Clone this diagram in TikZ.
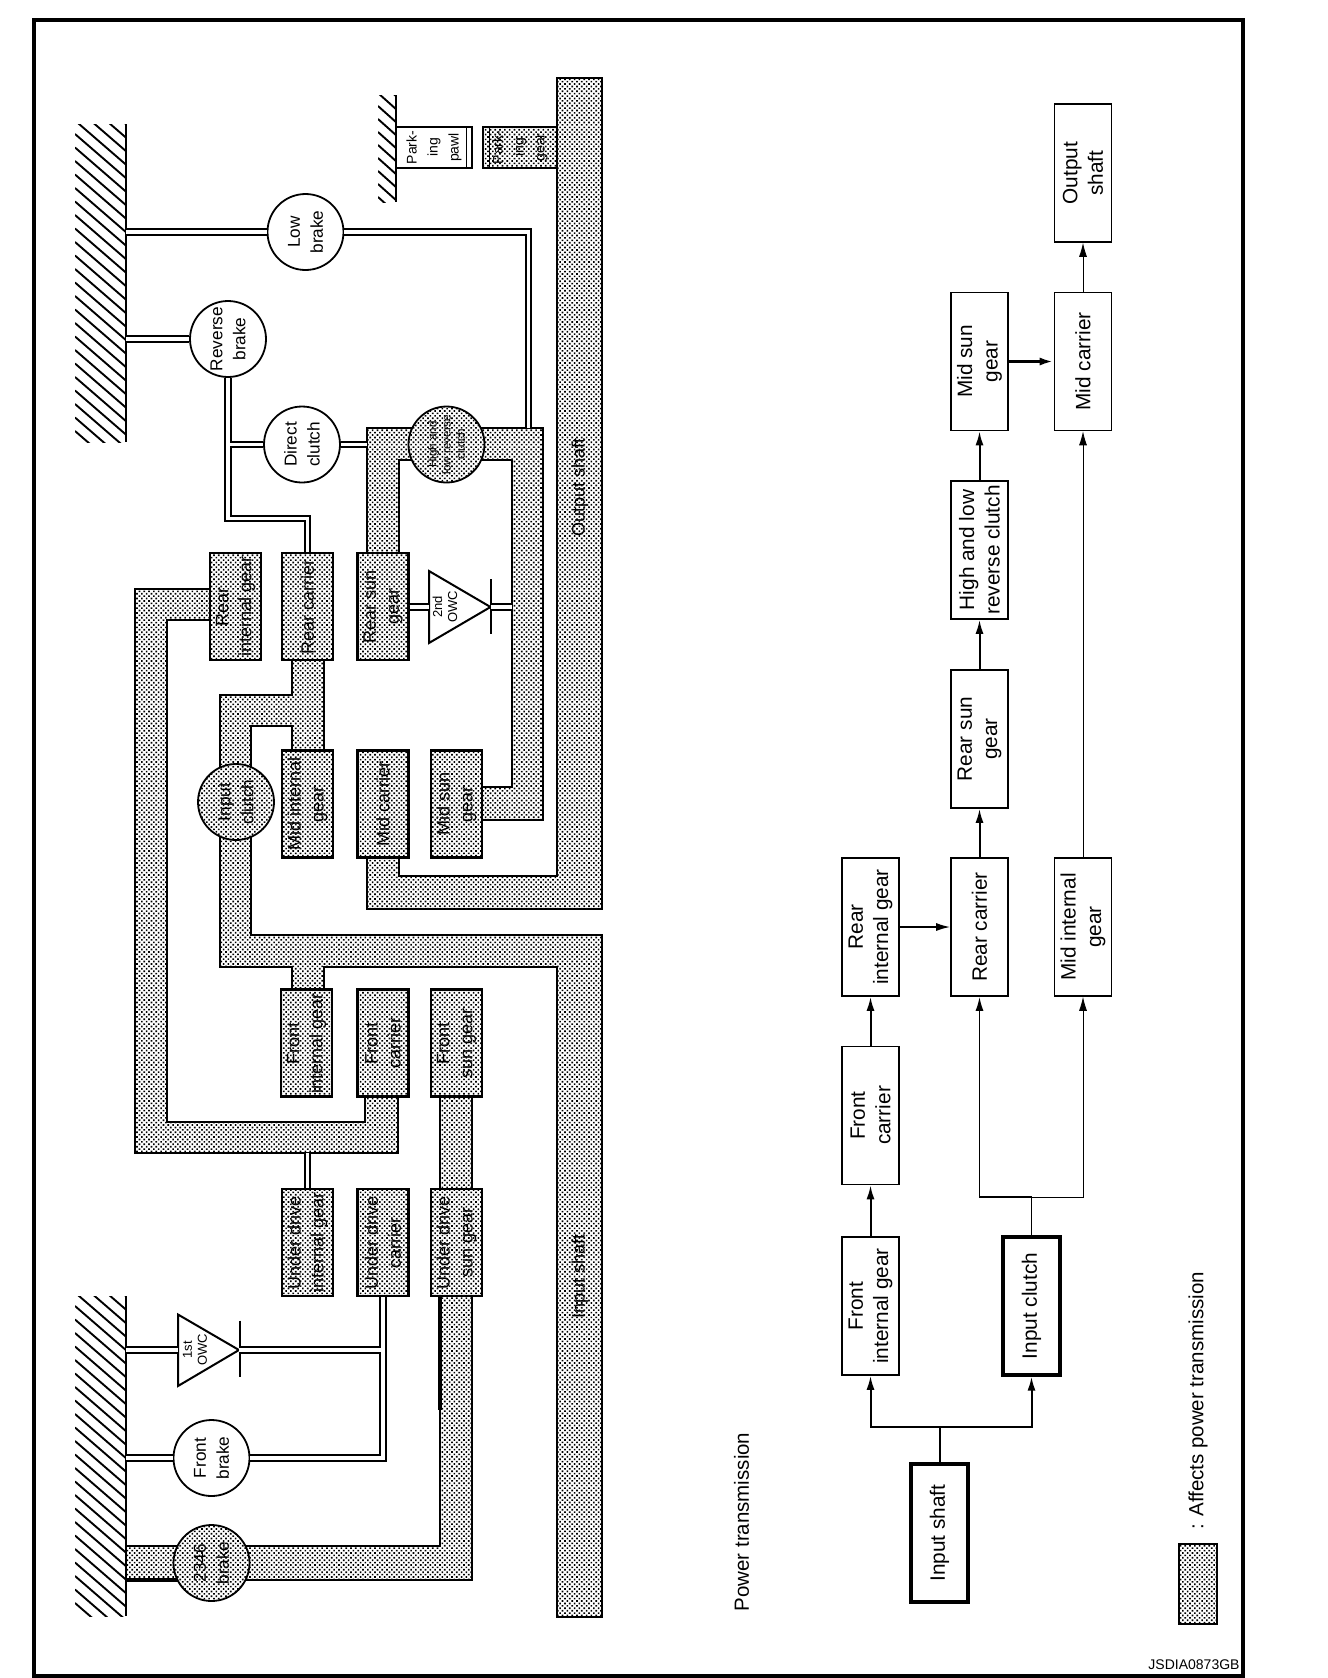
\documentclass[tikz,border=0pt]{standalone}
\usepackage{fontspec}
\setmainfont{Liberation Sans}
\usetikzlibrary{arrows.meta,patterns.meta}
\tikzset{
  powerfill/.style={preaction={fill=white},pattern={Dots[distance=1.7pt,radius=0.58pt,angle=45]}},
  pipe/.style={draw,line width=1.1pt,powerfill},
  gearbox/.style={draw,line width=1.1pt,rotate=90,align=center,inner sep=0pt,minimum width=53.5pt,minimum height=25.5pt,font=\fontsize{9}{11.5}\selectfont},
  plainbrake/.style={draw,circle,line width=0.9pt,fill=white,rotate=90,align=center,inner sep=0pt,minimum size=38pt,font=\fontsize{8.6}{11.5}\selectfont},
  blockbox/.style={draw,line width=0.8pt,fill=white,rotate=90,align=center,inner sep=0pt,minimum width=69pt,minimum height=28.5pt,font=\fontsize{10.4}{12.7}\selectfont},
  heavybox/.style={blockbox,line width=1.6pt},
  rod/.style={draw,line width=0.85pt,double=white,double distance=1.9pt},
  hatchline/.style={line width=0.95pt},
  flowarrow/.style={line width=1pt,-{Latex[length=7pt,width=4pt]}},
  thinarrow/.style={line width=0.4pt,-{Latex[length=7pt,width=4pt]}},
  title/.style={rotate=90,inner sep=0pt,font=\fontsize{10.25}{12}\selectfont},
}
\begin{document}
\begin{tikzpicture}[x=0.5pt,y=-0.5pt]
\useasboundingbox (0,0) rectangle (1328,1678);
\draw[line width=2.2pt] (34,20) rectangle (1243,1676); % frame

% ground hatching
\begin{scope}
\clip (75,124) rectangle (126,442);
\foreach \y in {80,93.5,...,442} \draw[hatchline] (75,\y) -- ++(52,45);
\end{scope}
\begin{scope}
\clip (75,1296) rectangle (126,1616);
\foreach \y in {1252,1265.5,...,1616} \draw[hatchline] (75,\y) -- ++(52,45);
\end{scope}
\begin{scope}
\clip (378,95) rectangle (396,202);
\foreach \y in {80,93,...,202} \draw[hatchline] (378,\y) -- ++(19,17);
\end{scope}
\draw[line width=1.2pt] (126,124) -- (126,442); % upper wall
\draw[line width=1.2pt] (126,1296) -- (126,1616); % lower wall
\draw[line width=1.2pt] (396,95) -- (396,202); % parking wall
\coordinate (wallup) at (126,0);

% shaded shafts
\draw[pipe] (557,78) -- (602,78) -- (602,909) -- (367,909) -- (367,855) -- (399,855) -- (399,876) -- (557,876) -- cycle; % output shaft
\draw[pipe] (251,935) -- (251,726) -- (292,726) -- (292,752) -- (324,752) -- (324,658) -- (292,658) -- (292,695) -- (220,695) -- (220,967) -- (292,967) -- (292,992) -- (324,992) -- (324,967) -- (557,967) -- (557,1617) -- (602,1617) -- (602,935) -- cycle; % input shaft
\draw[pipe] (212,589) -- (135,589) -- (135,1153) -- (398,1153) -- (398,1095) -- (365,1095) -- (365,1122) -- (167,1122) -- (167,620) -- (212,620) -- cycle; % rear internal to front carrier
\draw[pipe] (440,1095) -- (472,1095) -- (472,1580) -- (126,1580) -- (126,1546) -- (440,1546) -- cycle; % front sun to brake
\draw[pipe] (367,555) -- (367,428) -- (543,428) -- (543,820) -- (480,820) -- (480,787) -- (512,787) -- (512,460) -- (399,460) -- (399,555) -- cycle; % rear sun to mid sun
\draw[line width=1.8pt] (126,1580) -- (178,1580); % heavy brake edge
\draw[line width=1.6pt] (440,1296) -- (440,1410); % heavy shaft edge

% gear boxes
\node[gearbox,powerfill] (rearint) at (235.5,606.5) {Rear\\internal gear};
\node[gearbox,powerfill] (rearcar) at (307.5,606.5) {Rear carrier};
\node[gearbox,powerfill] (rearsun) at (383,606.5) {Rear sun\\gear};
\node[gearbox,powerfill] (midint) at (307.5,804) {Mid internal\\gear};
\node[gearbox,powerfill] (midcar) at (383,804) {Mid carrier};
\node[gearbox,powerfill] (midsun) at (456.5,804) {Mid sun\\gear};
\node[gearbox,powerfill] (frontint) at (306.5,1043) {Front\\internal gear};
\node[gearbox,powerfill] (frontcar) at (383,1043) {Front\\carrier};
\node[gearbox,powerfill] (frontsun) at (456.5,1043) {Front\\sun gear};
\node[gearbox,powerfill] (udint) at (307.5,1242.5) {Under drive\\internal gear};
\node[gearbox,powerfill] (udcar) at (383,1242.5) {Under drive\\carrier};
\node[gearbox,powerfill] (udsun) at (456.5,1242.5) {Under drive\\sun gear};
\node[gearbox,powerfill,minimum width=20.5pt,minimum height=37pt,font=\fontsize{7}{10.5}\selectfont] (parkgear) at (520,147.5) {Park-\\ing\\gear};
\node[gearbox,fill=white,minimum width=20.5pt,minimum height=38pt,font=\fontsize{7}{10.5}\selectfont] (parkpawl) at (434,147.5) {Park-\\ing\\pawl};
\draw[line width=0.5pt] (466,127) -- (466,168); % pawl edge
\draw[line width=0.5pt] (489,127) -- (489,168); % gear edge

% brakes and clutches
\node[plainbrake] (lowbrake) at (305.5,232) {Low\\brake};
\node[plainbrake] (revbrake) at (228,339) {Reverse\\brake};
\node[plainbrake] (dirclutch) at (302,444.5) {Direct\\clutch};
\node[plainbrake,powerfill,font=\fontsize{5.8}{7}\selectfont] (hiclutch) at (446.5,444.5) {High and\\low reverse\\clutch};
\node[plainbrake,powerfill] (inclutch) at (236,802) {Input\\clutch};
\node[plainbrake] (frbrake) at (211.5,1458) {Front\\brake};
\node[plainbrake,powerfill] (ugbrake) at (211.5,1563) {2346\\brake};

% one way clutches
\coordinate (owconetip) at (239,1350);
\coordinate (owctwotip) at (490.5,607);
\draw[line width=1pt,fill=white] (178,1314.5) -- (owconetip) -- (178,1386) -- cycle;
\draw[line width=1pt,fill=white] (429,571) -- (owctwotip) -- (429,643) -- cycle;
\draw[line width=1pt] (240,1320.5) -- (240,1377);
\draw[line width=1pt] (491,579) -- (491,634);
\node[rotate=90,align=center,inner sep=0pt,font=\fontsize{6.5}{7.5}\selectfont] (owcone) at (195,1350) {1st\\OWC};
\node[rotate=90,align=center,inner sep=0pt,font=\fontsize{6.5}{7.5}\selectfont] (owctwo) at (445,607) {2nd\\OWC};

% rods
\coordinate (lowtop) at (528.5,428);
\coordinate (revbend) at (228,518.5);
\coordinate (revtee) at (228,444.5);
\coordinate (asmleft) at (367,444.5);
\coordinate (ringbot) at (307.5,1153);
\coordinate (udtee) at (383,1350);
\coordinate (legone) at (178,1350);
\coordinate (legtwo) at (429,607);
\coordinate (asmright) at (512,607);
\draw[rod] (wallup |- lowbrake) -- (lowbrake.north);
\draw[rod] (lowbrake.south) -| (lowtop);
\draw[rod] (wallup |- revbrake) -- (revbrake.north);
\draw[rod] (revbrake.west) -- (revbend) -| (rearcar.east) (revtee) -- (dirclutch.north);
\draw[rod] (dirclutch.south) -- (asmleft);
\draw[rod] (ringbot) -- (udint.east);
\draw[rod] (udcar.west) |- (frbrake.south) (udtee) -- (owconetip);
\draw[rod] (wallup |- frbrake) -- (frbrake.north);
\draw[rod] (wallup |- owconetip) -- (legone);
\draw[rod] (rearsun.south |- legtwo) -- (legtwo);
\draw[rod] (owctwotip) -- (asmright);

% shaft labels
\node[title,font=\fontsize{9}{11}\selectfont] (outlabel) at (580,487) {Output shaft};
\node[title,font=\fontsize{9}{11}\selectfont] (inlabel) at (580,1276) {Input shaft};

% block diagram
\node[heavybox] (inshaft) at (939.5,1533) {Input shaft};
\node[blockbox] (bfrontint) at (870.5,1306) {Front\\internal gear};
\node[heavybox] (binclutch) at (1031.5,1306) {Input clutch};
\node[blockbox] (bfrontcar) at (870.5,1115.5) {Front\\carrier};
\node[blockbox] (brearint) at (870.5,927) {Rear\\internal gear};
\node[blockbox] (brearcar) at (979.5,927) {Rear carrier};
\node[blockbox] (bmidint) at (1083,927) {Mid internal\\gear};
\node[blockbox] (brearsun) at (979.5,739) {Rear sun\\gear};
\node[blockbox] (bhiclutch) at (979.5,550) {High and low\\reverse clutch};
\node[blockbox] (bmidsun) at (979.5,361.5) {Mid sun\\gear};
\node[blockbox] (bmidcar) at (1083,361.5) {Mid carrier};
\node[blockbox] (boutshaft) at (1083,173) {Output\\shaft};
\coordinate (forkin) at (939.5,1427);
\coordinate (forkclutch) at (1031.5,1197);
\draw[line width=1pt] (inshaft.east) -- (forkin);
\draw[flowarrow] (forkin) -| (bfrontint.west);
\draw[flowarrow] (forkin) -| (binclutch.west);
\draw[flowarrow] (bfrontint.east) -- (bfrontcar.west);
\draw[flowarrow] (bfrontcar.east) -- (brearint.west);
\draw[flowarrow,line width=0.8pt] (brearint.south) -- (brearcar.north);
\draw[line width=0.5pt] (binclutch.east) -- (forkclutch);
\draw[flowarrow,line width=0.85pt] (forkclutch) -| (brearcar.west);
\draw[thinarrow] (forkclutch) -| (bmidint.west);
\draw[flowarrow] (brearcar.east) -- (brearsun.west);
\draw[flowarrow] (brearsun.east) -- (bhiclutch.west);
\draw[flowarrow] (bhiclutch.east) -- (bmidsun.west);
\draw[flowarrow,line width=1.5pt] (bmidsun.south) -- (bmidcar.north);
\draw[thinarrow] (bmidint.east) -- (bmidcar.west);
\draw[thinarrow] (bmidcar.east) -- (boutshaft.west);

% texts and legend
\node[title] (powertitle) at (741.5,1522) {Power transmission};
\draw[pipe] (1179,1544) rectangle (1217,1624); % legend swatch
\node[title] (legendtext) at (1198,1401) {: Affects power transmission};
\node[inner sep=0pt,font=\fontsize{7}{8}\selectfont] (drawingno) at (1194,1665) {JSDIA0873GB};
\end{tikzpicture}
\end{document}
